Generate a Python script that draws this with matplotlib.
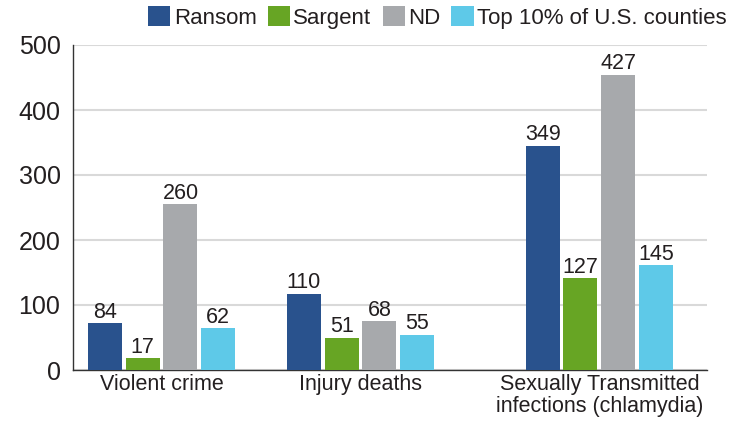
import numpy as np
import matplotlib
matplotlib.use("Agg")
import matplotlib.pyplot as plt
from matplotlib.patches import Patch

plt.rcParams["font.family"] = ["Liberation Sans", "DejaVu Sans"]

categories = ["Violent crime", "Injury deaths", "Sexually Transmitted\ninfections (chlamydia)"]
series = ["Ransom", "Sargent", "ND", "Top 10% of U.S. counties"]

# bar heights as drawn in the picture
ransom_h = [72, 117, 345]
sargent_h = [18, 49, 141]
nd_h = [255, 75, 454]
top10_h = [64, 54, 161]

# printed value labels
ransom_lbl = [84, 110, 349]
sargent_lbl = [17, 51, 127]
nd_lbl = [260, 68, 427]
top10_lbl = [62, 55, 145]

yticks = [0, 100, 200, 300, 400, 500]

colors = ["#29528d", "#67a524", "#a7a9ac", "#5ec9e8"]
TXT = "#231f20"

heights = [ransom_h, sargent_h, nd_h, top10_h]
labels = [ransom_lbl, sargent_lbl, nd_lbl, top10_lbl]

group_x = np.array([0, 1, 2.2])
width = 0.171
step = 0.19

fig = plt.figure(figsize=(7.43, 4.21), dpi=100)
ax = fig.add_axes([73 / 743, 1 - 370 / 421, (707 - 73) / 743, (370 - 45) / 421])

for i, (h, lb, c) in enumerate(zip(heights, labels, colors)):
    xs = group_x + (i - 1.5) * step
    bars = ax.bar(xs, h, width=width, color=c, zorder=3)
    for b, v in zip(bars, lb):
        ax.annotate(str(v), (b.get_x() + b.get_width() / 2, b.get_height()),
                    xytext=(0, 0.5), textcoords="offset points",
                    ha="center", va="bottom", fontsize=15.5, color=TXT)

ax.set_xlim(-0.445, 2.741)
ax.set_ylim(0, 500)
ax.set_yticks(yticks)
ax.set_xticks(group_x)
ax.set_xticklabels(categories, fontsize=15.5, color=TXT, linespacing=1.08)
ax.tick_params(axis="y", length=0, pad=9, labelsize=18, labelcolor=TXT)
ax.tick_params(axis="x", length=0, pad=3)
ax.yaxis.grid(True, color="#d9d9d9", linewidth=1.5, zorder=0)
ax.set_axisbelow(True)
for s in ["top", "right"]:
    ax.spines[s].set_visible(False)
for s in ["left", "bottom"]:
    ax.spines[s].set_color("#333333")
    ax.spines[s].set_linewidth(1.0)

handles = [Patch(facecolor=c, edgecolor="none") for c in colors]
fig.legend(handles, series, loc="upper right", bbox_to_anchor=(0.978, 0.985),
           ncol=4, frameon=False, fontsize=16, handlelength=1.0, handleheight=1.0,
           handletextpad=0.15, columnspacing=0.5, borderpad=0, borderaxespad=0,
           labelcolor=TXT)

fig.savefig("out.png", dpi=100)
